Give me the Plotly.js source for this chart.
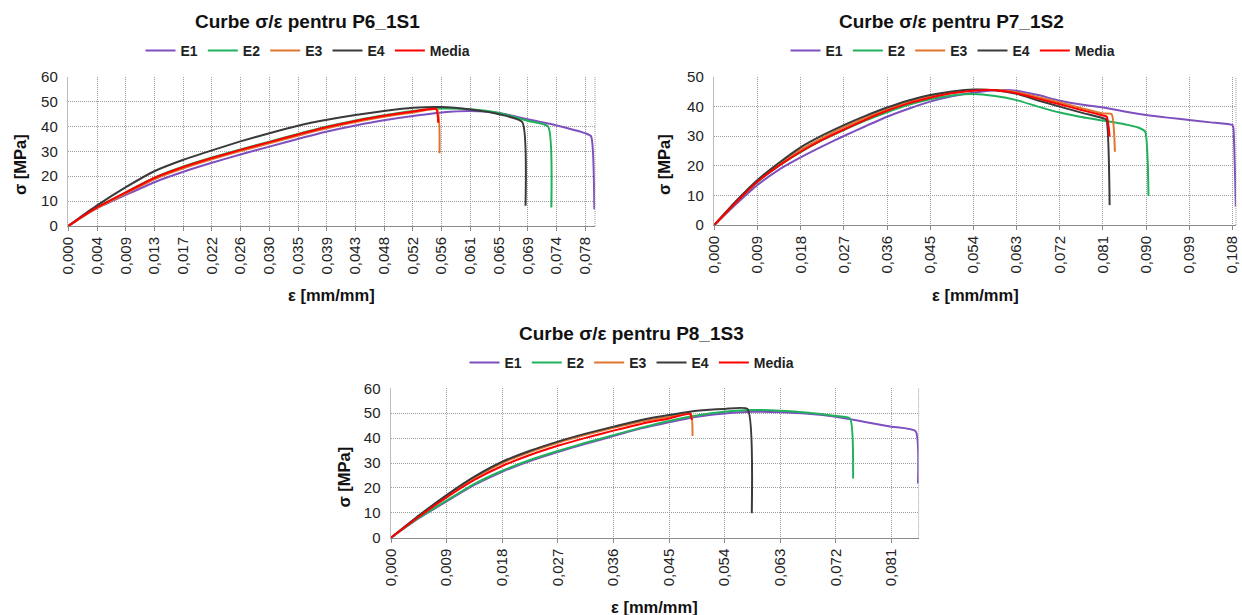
<!DOCTYPE html>
<html>
<head>
<meta charset="utf-8">
<script src="https://cdn.plot.ly/plotly-3.0.1.min.js"></script>
<style>html,body{margin:0;padding:0;background:#fff;}#chart{width:1242px;height:615px;}</style>
</head>
<body>
<div id="chart"></div>
<script>
// ---------- DATA ----------
const seriesNames = ['E1', 'E2', 'E3', 'E4', 'Media'];

// Chart 1: P6_1S1
const p6Title = 'Curbe σ/ε pentru P6_1S1';
const p6Ticks = ['0,000','0,004','0,009','0,013','0,017','0,022','0,026','0,030','0,035','0,039','0,043','0,048','0,052','0,056','0,061','0,065','0,069','0,074','0,078'];
const p6E1x = [0, 0.0022, 0.0043, 0.0087, 0.0130, 0.0174, 0.0217, 0.0260, 0.0304, 0.0347, 0.0391, 0.0434, 0.0477, 0.0521, 0.0564, 0.0608, 0.0651, 0.0694, 0.0738, 0.0781, 0.0790, 0.0795];
const p6E1y = [0, 3.8, 7.1, 12.5, 17.6, 21.8, 25.4, 28.7, 31.9, 35.0, 38.0, 40.4, 42.5, 44.2, 45.6, 46.2, 45.4, 42.9, 40.4, 37.3, 36.1, 6.7];
const p6E2x = [0, 0.0022, 0.0043, 0.0087, 0.0130, 0.0174, 0.0217, 0.0260, 0.0304, 0.0347, 0.0391, 0.0434, 0.0477, 0.0521, 0.0564, 0.0608, 0.0651, 0.0694, 0.0725, 0.0730];
const p6E2y = [0, 4.0, 7.5, 13.6, 19.4, 23.9, 27.5, 30.8, 33.9, 37.0, 40.0, 42.4, 44.5, 46.2, 47.2, 46.9, 45.4, 42.3, 40.0, 7.4];
const p6E3x = [0, 0.0022, 0.0043, 0.0087, 0.0130, 0.0174, 0.0217, 0.0260, 0.0304, 0.0347, 0.0391, 0.0434, 0.0477, 0.0521, 0.0557, 0.0561];
const p6E3y = [0, 3.9, 7.2, 13.1, 18.8, 23.2, 26.8, 30.1, 33.2, 36.3, 39.3, 41.8, 43.9, 45.6, 46.8, 29.2];
const p6E4x = [0, 0.0022, 0.0043, 0.0087, 0.0130, 0.0174, 0.0217, 0.0260, 0.0304, 0.0347, 0.0391, 0.0434, 0.0477, 0.0521, 0.0564, 0.0608, 0.0651, 0.0686, 0.0691];
const p6E4y = [0, 4.3, 8.2, 15.6, 22.0, 26.6, 30.4, 34.0, 37.3, 40.3, 42.7, 44.6, 46.2, 47.5, 47.8, 46.8, 44.9, 41.8, 8.1];
const p6Mx  = [0, 0.0022, 0.0043, 0.0087, 0.0130, 0.0174, 0.0217, 0.0260, 0.0304, 0.0347, 0.0391, 0.0434, 0.0477, 0.0521, 0.0556, 0.0559];
const p6My  = [0, 4.0, 7.4, 13.5, 19.3, 23.7, 27.3, 30.6, 33.7, 36.8, 39.8, 42.2, 44.3, 46.0, 47.0, 41.5];

// Chart 2: P7_1S2
const p7Title = 'Curbe σ/ε pentru P7_1S2';
const p7Ticks = ['0,000','0,009','0,018','0,027','0,036','0,045','0,054','0,063','0,072','0,081','0,090','0,099','0,108'];
const p7E1x = [0, 0.0045, 0.009, 0.0135, 0.018, 0.0225, 0.027, 0.0315, 0.036, 0.0405, 0.045, 0.0495, 0.054, 0.0585, 0.063, 0.0675, 0.072, 0.0765, 0.081, 0.0855, 0.090, 0.0945, 0.099, 0.1035, 0.108, 0.1082, 0.1087];
const p7E1y = [0, 7.0, 13.5, 18.7, 22.8, 26.5, 30.0, 33.3, 36.5, 39.2, 41.6, 43.4, 44.6, 45.4, 45.3, 43.8, 41.9, 40.6, 39.6, 38.3, 37.1, 36.2, 35.4, 34.6, 33.7, 32.6, 6.2];
const p7E2x = [0, 0.0045, 0.009, 0.0135, 0.018, 0.0225, 0.027, 0.0315, 0.036, 0.0405, 0.045, 0.0495, 0.054, 0.0585, 0.063, 0.0675, 0.072, 0.0765, 0.081, 0.0855, 0.0885, 0.0898, 0.0905];
const p7E2y = [0, 7.6, 14.5, 20.0, 24.6, 28.6, 32.0, 35.2, 38.0, 40.5, 42.4, 43.7, 44.2, 43.5, 42.1, 39.9, 37.9, 36.4, 35.2, 34.0, 32.8, 31.5, 9.8];
const p7E3x = [0, 0.0045, 0.009, 0.0135, 0.018, 0.0225, 0.027, 0.0315, 0.036, 0.0405, 0.045, 0.0495, 0.054, 0.0585, 0.063, 0.0675, 0.072, 0.0765, 0.081, 0.0828, 0.0835];
const p7E3y = [0, 7.8, 14.9, 20.5, 25.4, 29.4, 33.0, 36.2, 39.0, 41.5, 43.3, 44.7, 45.5, 45.5, 44.8, 43.1, 41.3, 39.4, 37.6, 37.4, 24.7];
const p7E4x = [0, 0.0045, 0.009, 0.0135, 0.018, 0.0225, 0.027, 0.0315, 0.036, 0.0405, 0.045, 0.0495, 0.054, 0.0585, 0.063, 0.0675, 0.072, 0.0765, 0.081, 0.0817, 0.0824];
const p7E4y = [0, 8.0, 15.2, 21.0, 26.2, 30.2, 33.7, 36.8, 39.6, 42.0, 43.8, 45.0, 45.7, 45.4, 44.2, 42.0, 39.9, 37.9, 36.0, 35.6, 6.7];
const p7Mx  = [0, 0.0045, 0.009, 0.0135, 0.018, 0.0225, 0.027, 0.0315, 0.036, 0.0405, 0.045, 0.0495, 0.054, 0.0585, 0.063, 0.0675, 0.072, 0.0765, 0.081, 0.0818, 0.0824];
const p7My  = [0, 7.6, 14.6, 20.0, 24.7, 28.7, 32.2, 35.5, 38.5, 41.0, 42.9, 44.4, 45.3, 45.4, 44.4, 42.6, 40.7, 38.8, 36.9, 36.5, 29.8];

// Chart 3: P8_1S3
const p8Title = 'Curbe σ/ε pentru P8_1S3';
const p8Ticks = ['0,000','0,009','0,018','0,027','0,036','0,045','0,054','0,063','0,072','0,081'];
const p8E1x = [0, 0.0045, 0.009, 0.0135, 0.018, 0.0225, 0.027, 0.0315, 0.036, 0.0405, 0.045, 0.0495, 0.054, 0.0585, 0.063, 0.0675, 0.072, 0.0765, 0.081, 0.0849, 0.0853];
const p8E1y = [0, 7.8, 14.6, 21.2, 26.5, 30.8, 34.4, 37.7, 40.8, 43.9, 46.4, 48.6, 49.9, 50.6, 50.4, 49.8, 48.6, 46.6, 44.6, 42.8, 21.8];
const p8E2x = [0, 0.0045, 0.009, 0.0135, 0.018, 0.0225, 0.027, 0.0315, 0.036, 0.0405, 0.045, 0.0495, 0.054, 0.0585, 0.063, 0.0675, 0.072, 0.0743, 0.0748];
const p8E2y = [0, 8.0, 14.9, 21.6, 26.9, 31.2, 34.8, 38.1, 41.2, 44.2, 46.9, 49.1, 50.6, 51.3, 51.0, 50.2, 48.9, 47.9, 23.8];
const p8E3x = [0, 0.0045, 0.009, 0.0135, 0.018, 0.0225, 0.027, 0.0315, 0.036, 0.0405, 0.045, 0.0485, 0.0488];
const p8E3y = [0, 8.7, 16.8, 24.0, 30.0, 34.4, 38.1, 41.3, 44.1, 46.7, 48.6, 50.1, 40.8];
const p8E4x = [0, 0.0045, 0.009, 0.0135, 0.018, 0.0225, 0.027, 0.0315, 0.036, 0.0405, 0.045, 0.0495, 0.054, 0.0577, 0.0584];
const p8E4y = [0, 8.9, 17.1, 24.5, 30.5, 34.9, 38.6, 41.8, 44.6, 47.3, 49.3, 51.0, 51.7, 51.7, 9.8];
const p8Mx  = [0, 0.0045, 0.009, 0.0135, 0.018, 0.0225, 0.027, 0.0315, 0.036, 0.0405, 0.045, 0.0484, 0.0487];
const p8My  = [0, 8.4, 16.2, 23.2, 28.8, 33.2, 36.9, 40.1, 43.0, 45.7, 47.9, 49.7, 47.3];

const yTitle = 'σ [MPa]';
const xTitle = 'ε [mm/mm]';

// ---------- STYLE ----------
const FONT = 'Liberation Sans, Arial, Helvetica, sans-serif';
const colors = ['#7e4fbf', '#1fb15c', '#e0752f', '#3a3a3a', '#ff0000'];
const W = 1242, H = 615;

const charts = [
  {xs:[p6E1x,p6E2x,p6E3x,p6E4x,p6Mx], ys:[p6E1y,p6E2y,p6E3y,p6E4y,p6My], ticks:p6Ticks, step:0.00434, xmax:0.0796, ymax:60,
   px:[68.3,595], py:[76.7,226], title:p6Title, titleX:307, titleY:22, legX:308, legY:51, yTitleX:20, yTitleY:165, xTitleY:295},
  {xs:[p7E1x,p7E2x,p7E3x,p7E4x,p7Mx], ys:[p7E1y,p7E2y,p7E3y,p7E4y,p7My], ticks:p7Ticks, step:0.009, xmax:0.10874, ymax:50,
   px:[714.3,1236], py:[76.7,225], title:p7Title, titleX:951, titleY:22, legX:953, legY:51, yTitleX:664, yTitleY:165, xTitleY:295},
  {xs:[p8E1x,p8E2x,p8E3x,p8E4x,p8Mx], ys:[p8E1y,p8E2y,p8E3y,p8E4y,p8My], ticks:p8Ticks, step:0.009, xmax:0.0854, ymax:60,
   px:[391,918.6], py:[388.3,537.7], title:p8Title, titleX:631, titleY:333, legX:632, legY:363, yTitleX:343.5, yTitleY:477, xTitleY:607}
];

const traces = [];
const layout = {
  width: W, height: H,
  margin: {l:0, r:0, t:0, b:0},
  paper_bgcolor: '#ffffff', plot_bgcolor: '#ffffff',
  font: {family: FONT, color: '#222'},
  annotations: [], shapes: []
};

charts.forEach((c, i) => {
  const sfx = i === 0 ? '' : String(i + 1);
  const legName = 'legend' + sfx;
  seriesNames.forEach((n, j) => {
    traces.push({
      type: 'scatter', mode: 'lines', name: n,
      x: c.xs[j], y: c.ys[j],
      xaxis: 'x' + sfx, yaxis: 'y' + sfx,
      legend: legName,
      line: {color: colors[j], width: 2, shape: 'spline', smoothing: 0.5},
      hoverinfo: 'x+y+name'
    });
  });
  const tickvals = c.ticks.map((t, k) => +(k * c.step).toFixed(6));
  layout['xaxis' + sfx] = {
    domain: [c.px[0] / W, c.px[1] / W],
    range: [0, c.xmax],
    anchor: 'y' + sfx,
    tickmode: 'array', tickvals: tickvals, ticktext: c.ticks,
    tickangle: -90, ticklabeloverflow: 'allow',
    tickfont: {family: FONT, size: 15, color: '#222'},
    ticks: 'outside', ticklen: 4, tickcolor: '#8a8a8a',
    showgrid: true, gridcolor: '#9c9c9c', griddash: '1px,1px', gridwidth: 1,
    showline: true, linecolor: '#8a8a8a', linewidth: 1,
    zeroline: false, fixedrange: true
  };
  layout['yaxis' + sfx] = {
    domain: [1 - c.py[1] / H, 1 - c.py[0] / H],
    range: [0, c.ymax],
    anchor: 'x' + sfx,
    dtick: 10, tick0: 0,
    tickfont: {family: FONT, size: 15, color: '#222'},
    ticks: '', ticklabelstandoff: 6,
    showgrid: true, gridcolor: '#9c9c9c', griddash: '1px,1px', gridwidth: 1,
    showline: true, linecolor: '#bdbdbd', linewidth: 1.5,
    zeroline: false, fixedrange: true
  };
  layout[legName] = {
    orientation: 'h', x: c.legX / W, xanchor: 'center', y: 1 - c.legY / H, yanchor: 'middle',
    font: {family: FONT, size: 14, color: '#222', weight: 'bold'},
    bgcolor: 'rgba(0,0,0,0)', itemwidth: 30, tracegroupgap: 0
  };
  // right border of plot area (dotted)
  layout.shapes.push({type: 'line', xref: 'x' + sfx + ' domain', yref: 'y' + sfx + ' domain',
    x0: 1, x1: 1, y0: 0, y1: 1, line: {color: '#9c9c9c', width: 1, dash: '1px,1px'}});
  // chart title
  layout.annotations.push({text: c.title, xref: 'paper', yref: 'paper', x: c.titleX / W, y: 1 - c.titleY / H,
    xanchor: 'center', yanchor: 'middle', showarrow: false,
    font: {family: FONT, size: 19, color: '#111', weight: 'bold'}});
  // y title
  layout.annotations.push({text: yTitle, xref: 'paper', yref: 'paper', x: c.yTitleX / W, y: 1 - c.yTitleY / H,
    xanchor: 'center', yanchor: 'middle', textangle: -90, showarrow: false,
    font: {family: FONT, size: 16.5, color: '#111', weight: 'bold'}});
  // x title
  layout.annotations.push({text: xTitle, xref: 'paper', yref: 'paper', x: ((c.px[0] + c.px[1]) / 2) / W, y: 1 - c.xTitleY / H,
    xanchor: 'center', yanchor: 'middle', showarrow: false,
    font: {family: FONT, size: 16.5, color: '#111', weight: 'bold'}});
});

Plotly.newPlot('chart', traces, layout, {staticPlot: true, displayModeBar: false});
</script>
</body>
</html>
